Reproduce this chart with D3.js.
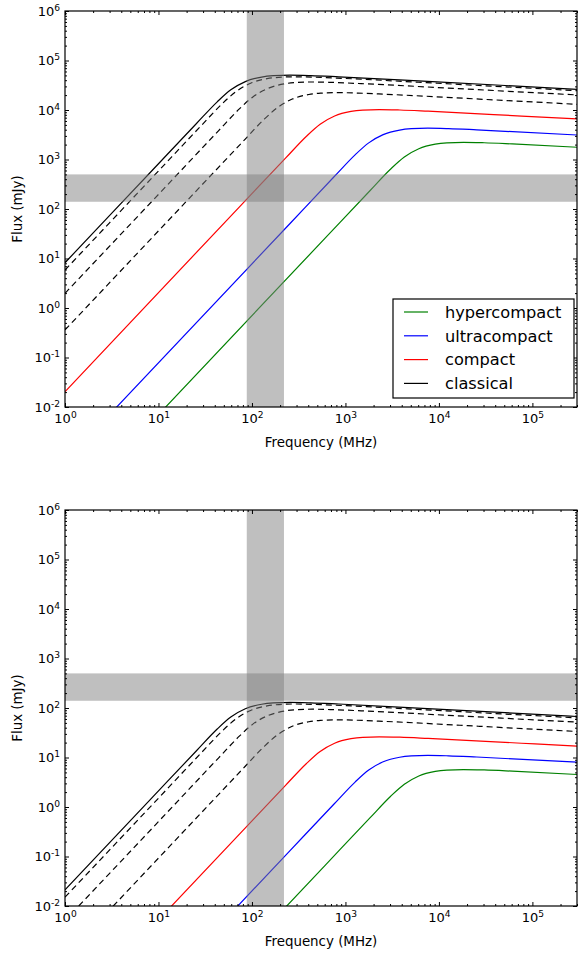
<!DOCTYPE html>
<html>
<head>
<meta charset="utf-8">
<script src="https://cdn.jsdelivr.net/npm/d3@7"></script>
<style>
  body { margin: 0; background: #fff; }
  svg { font-family: "DejaVu Sans", sans-serif; }
</style>
</head>
<body>
<div id="chart"></div>
<script>

// frame constants
const FRAME_WIDTH = 578;
const FRAME_HEIGHT = 953;
const MARGINS = {left: 65, right: 1};
const VIS_WIDTH = FRAME_WIDTH - MARGINS.left - MARGINS.right;
const VIS_HEIGHT = 396;
const PANEL_TOPS = [11, 510];

// tick labels (powers of ten)
const X_EXPONENTS = [0, 1, 2, 3, 4, 5];
const Y_EXPONENTS = [-2, -1, 0, 1, 2, 3, 4, 5, 6];

// shaded bands: frequency (MHz) and flux (mJy)
const FREQ_BAND = [88, 220];
const FLUX_BAND = [140, 500];

// spectra: frequency (MHz), flux top panel, flux bottom panel (mJy)
const CLASSICAL_FREQ = [1, 8.5, 25.5, 42.5, 59.4, 84.9, 127, 170, 255, 425, 849, 8490, 3e5];
const CLASSICAL_TOP = [8.22, 593, 5333, 14620, 25530, 37500, 46340, 49320, 50580, 49550, 46880, 37410, 26180];
const CLASSICAL_BOTTOM = [0.0211, 1.524, 13.71, 37.6, 65.6, 96.4, 119.1, 126.8, 130.0, 127.3, 120.5, 96.1, 67.3];

const DASHED_A_FREQ = [1, 9.68, 29.0, 48.4, 67.8, 96.8, 145, 194, 290, 484, 968, 9680, 3e5];
const DASHED_A_TOP = [5.86, 550, 4943, 13550, 23660, 34750, 42950, 45710, 46880, 45920, 43450, 34670, 24600];
const DASHED_A_BOTTOM = [0.01506, 1.414, 12.70, 34.8, 60.8, 89.3, 110.4, 117.5, 120.5, 118.0, 111.7, 89.1, 63.2];

const DASHED_B_FREQ = [1, 14.8, 44.3, 73.8, 103, 148, 221, 295, 443, 738, 1476, 14760, 3e5];
const DASHED_B_TOP = [1.98, 432, 3882, 10640, 18580, 27290, 33730, 35890, 36810, 36060, 34120, 27230, 20140];
const DASHED_B_BOTTOM = [0.00509, 1.110, 9.98, 27.3, 47.8, 70.1, 86.7, 92.2, 94.6, 92.7, 87.7, 70.0, 51.8];

const DASHED_C_FREQ = [1, 27.0, 81.1, 135, 189, 270, 406, 541, 811, 1352, 2704, 27040, 3e5];
const DASHED_C_TOP = [0.360, 263, 2366, 6486, 11320, 16630, 20560, 21880, 22440, 21980, 20800, 16600, 13030];
const DASHED_C_BOTTOM = [0.000925, 0.676, 6.08, 16.67, 29.1, 42.7, 52.8, 56.2, 57.7, 56.5, 53.5, 42.7, 33.5];

const COMPACT_FREQ = [1, 76.6, 230, 383, 536, 766, 1148, 1531, 2296, 3828, 7656, 76560, 3e5];
const COMPACT_TOP = [0.0204, 120, 1076, 2951, 5152, 7568, 9354, 9954, 10210, 10000, 9462, 7551, 6592];
const COMPACT_BOTTOM = [5.24e-5, 0.308, 2.77, 7.58, 13.24, 19.45, 24.0, 25.6, 26.2, 25.7, 24.3, 19.41, 16.94];

const ULTRACOMPACT_FREQ = [1, 254, 760, 1268, 1774, 2535, 3802, 5070, 7603, 12680, 25350, 3e5];
const ULTRACOMPACT_TOP = [7.83e-4, 50.4, 453, 1242, 2168, 3184, 3936, 4188, 4295, 4207, 3981, 3126];
const ULTRACOMPACT_BOTTOM = [2.01e-6, 0.1295, 1.164, 3.19, 5.57, 8.18, 10.12, 10.76, 11.04, 10.81, 10.23, 8.03];

const HYPERCOMPACT_FREQ = [1, 610, 1828, 3048, 4266, 6095, 9141, 12190, 18280, 30480, 60950, 3e5];
const HYPERCOMPACT_TOP = [7.0e-5, 26.1, 234, 643, 1122, 1648, 2037, 2168, 2223, 2178, 2061, 1766];
const HYPERCOMPACT_BOTTOM = [1.8e-7, 0.0671, 0.601, 1.652, 2.88, 4.24, 5.24, 5.57, 5.71, 5.60, 5.30, 4.54];

// legend entries
const LEGEND_NAMES = ["hypercompact", "ultracompact", "compact", "classical"];
const LEGEND_COLORS = ["#008000", "#0000ff", "#ff0000", "#000000"];


// series table built from the arrays above
const SERIES = [
  {freq: CLASSICAL_FREQ, flux: [CLASSICAL_TOP, CLASSICAL_BOTTOM], color: "#000", dash: null},
  {freq: DASHED_A_FREQ, flux: [DASHED_A_TOP, DASHED_A_BOTTOM], color: "#000", dash: "6,4"},
  {freq: DASHED_B_FREQ, flux: [DASHED_B_TOP, DASHED_B_BOTTOM], color: "#000", dash: "6,4"},
  {freq: DASHED_C_FREQ, flux: [DASHED_C_TOP, DASHED_C_BOTTOM], color: "#000", dash: "6,4"},
  {freq: COMPACT_FREQ, flux: [COMPACT_TOP, COMPACT_BOTTOM], color: "#ff0000", dash: null},
  {freq: ULTRACOMPACT_FREQ, flux: [ULTRACOMPACT_TOP, ULTRACOMPACT_BOTTOM], color: "#0000ff", dash: null},
  {freq: HYPERCOMPACT_FREQ, flux: [HYPERCOMPACT_TOP, HYPERCOMPACT_BOTTOM], color: "#008000", dash: null}
];


const FRAME = d3.select("#chart")
                .append("svg")
                  .attr("width", FRAME_WIDTH)
                  .attr("height", FRAME_HEIGHT);

// shared x scale
const X_SCALE = d3.scaleLog()
                  .domain([1, 3e5])
                  .range([MARGINS.left, MARGINS.left + VIS_WIDTH]);

// minor tick positions 2..9 per decade
function minorTicks(lo, hi) {
  const out = [];
  for (let e = lo; e < hi; e++) {
    for (let m = 2; m <= 9; m++) out.push(m * Math.pow(10, e));
  }
  return out;
}
const X_MINOR = minorTicks(0, 6).filter((v) => v <= 3e5);
const Y_MINOR = minorTicks(-2, 6);

// swap plain labels for 10 with a superscript exponent
function superscript(g) {
  g.attr("font-size", 13).attr("font-family", "DejaVu Sans, sans-serif");
  g.selectAll(".tick text").each(function(d) {
    const t = d3.select(this);
    const e = Math.round(Math.log10(d));
    t.text(null);
    t.append("tspan").text("10");
    t.append("tspan")
      .attr("dy", "-0.55em")
      .attr("font-size", "0.7em")
      .text(e < 0 ? "-" + (-e) : String(e));
  });
}

function styleAxis(g) {
  g.select(".domain").remove();
  g.selectAll(".tick line").attr("stroke", "#000").attr("stroke-width", 1);
  g.selectAll(".tick text").attr("fill", "#000");
}

function drawPanel(top, idx) {
  const bottom = top + VIS_HEIGHT;
  const Y_SCALE = d3.scaleLog()
                    .domain([1e-2, 1e6])
                    .range([bottom, top]);

  const clipId = "clip" + idx;
  FRAME.append("clipPath")
        .attr("id", clipId)
      .append("rect")
        .attr("x", MARGINS.left)
        .attr("y", top)
        .attr("width", VIS_WIDTH)
        .attr("height", VIS_HEIGHT);

  const plot = FRAME.append("g").attr("clip-path", "url(#" + clipId + ")");

  // spectra
  const line = d3.line()
                 .x((d) => X_SCALE(d[0]))
                 .y((d) => Y_SCALE(d[1]))
                 .curve(d3.curveMonotoneX);

  SERIES.forEach((s) => {
    const pts = s.freq.map((f, i) => [f, s.flux[idx][i]]);
    plot.append("path")
        .attr("d", line(pts))
        .attr("fill", "none")
        .attr("stroke", s.color)
        .attr("stroke-width", 1.2)
        .attr("stroke-dasharray", s.dash);
  });

  // shaded bands on top of the lines
  plot.append("rect")
      .attr("x", X_SCALE(FREQ_BAND[0]))
      .attr("y", top)
      .attr("width", X_SCALE(FREQ_BAND[1]) - X_SCALE(FREQ_BAND[0]))
      .attr("height", VIS_HEIGHT)
      .attr("fill", "#808080")
      .attr("fill-opacity", 0.5);

  plot.append("rect")
      .attr("x", MARGINS.left)
      .attr("y", Y_SCALE(FLUX_BAND[1]))
      .attr("width", VIS_WIDTH)
      .attr("height", Y_SCALE(FLUX_BAND[0]) - Y_SCALE(FLUX_BAND[1]))
      .attr("fill", "#808080")
      .attr("fill-opacity", 0.5);

  const X_MAJOR = X_EXPONENTS.map((e) => Math.pow(10, e));
  const Y_MAJOR = Y_EXPONENTS.map((e) => Math.pow(10, e));

  // bottom axis with labels
  FRAME.append("g")
        .attr("transform", "translate(0," + bottom + ")")
        .call(d3.axisBottom(X_SCALE).tickValues(X_MAJOR).tickSize(-4).tickPadding(7))
        .call(superscript)
        .call(styleAxis);
  FRAME.append("g")
        .attr("transform", "translate(0," + bottom + ")")
        .call(d3.axisBottom(X_SCALE).tickValues(X_MINOR).tickSize(-2).tickFormat(""))
        .call(styleAxis);

  // top axis, ticks only
  FRAME.append("g")
        .attr("transform", "translate(0," + top + ")")
        .call(d3.axisTop(X_SCALE).tickValues(X_MAJOR).tickSize(-4).tickFormat(""))
        .call(styleAxis);
  FRAME.append("g")
        .attr("transform", "translate(0," + top + ")")
        .call(d3.axisTop(X_SCALE).tickValues(X_MINOR).tickSize(-2).tickFormat(""))
        .call(styleAxis);

  // left axis with labels
  FRAME.append("g")
        .attr("transform", "translate(" + MARGINS.left + ",0)")
        .call(d3.axisLeft(Y_SCALE).tickValues(Y_MAJOR).tickSize(-4).tickPadding(5))
        .call(superscript)
        .call(styleAxis);
  FRAME.append("g")
        .attr("transform", "translate(" + MARGINS.left + ",0)")
        .call(d3.axisLeft(Y_SCALE).tickValues(Y_MINOR).tickSize(-2).tickFormat(""))
        .call(styleAxis);

  // right axis, ticks only
  const right = MARGINS.left + VIS_WIDTH;
  FRAME.append("g")
        .attr("transform", "translate(" + right + ",0)")
        .call(d3.axisRight(Y_SCALE).tickValues(Y_MAJOR).tickSize(-4).tickFormat(""))
        .call(styleAxis);
  FRAME.append("g")
        .attr("transform", "translate(" + right + ",0)")
        .call(d3.axisRight(Y_SCALE).tickValues(Y_MINOR).tickSize(-2).tickFormat(""))
        .call(styleAxis);

  // frame
  FRAME.append("rect")
        .attr("x", MARGINS.left)
        .attr("y", top)
        .attr("width", VIS_WIDTH)
        .attr("height", VIS_HEIGHT)
        .attr("fill", "none")
        .attr("stroke", "#000")
        .attr("stroke-width", 1.2);

  // axis titles
  FRAME.append("text")
        .attr("x", MARGINS.left + VIS_WIDTH / 2)
        .attr("y", bottom + 40)
        .attr("text-anchor", "middle")
        .attr("font-size", 13.4)
        .text("Frequency (MHz)");

  FRAME.append("text")
        .attr("transform", "translate(22," + (top + VIS_HEIGHT / 2) + ") rotate(-90)")
        .attr("text-anchor", "middle")
        .attr("font-size", 13.4)
        .text("Flux (mJy)");
}

PANEL_TOPS.forEach((top, i) => drawPanel(top, i));


// legend in the top panel
const LEGEND = FRAME.append("g");
LEGEND.append("rect")
      .attr("x", 393)
      .attr("y", 299)
      .attr("width", 181)
      .attr("height", 99)
      .attr("fill", "#fff")
      .attr("stroke", "#000")
      .attr("stroke-width", 1.2);

LEGEND_NAMES.forEach((name, i) => {
  const cy = 312 + i * 23.8;
  LEGEND.append("line")
        .attr("x1", 404)
        .attr("x2", 428)
        .attr("y1", cy)
        .attr("y2", cy)
        .attr("stroke", LEGEND_COLORS[i])
        .attr("stroke-width", 1.2);
  LEGEND.append("text")
        .attr("x", 445)
        .attr("y", cy)
        .attr("dy", "0.36em")
        .attr("font-size", 16.2)
        .text(name);
});

</script>
</body>
</html>
